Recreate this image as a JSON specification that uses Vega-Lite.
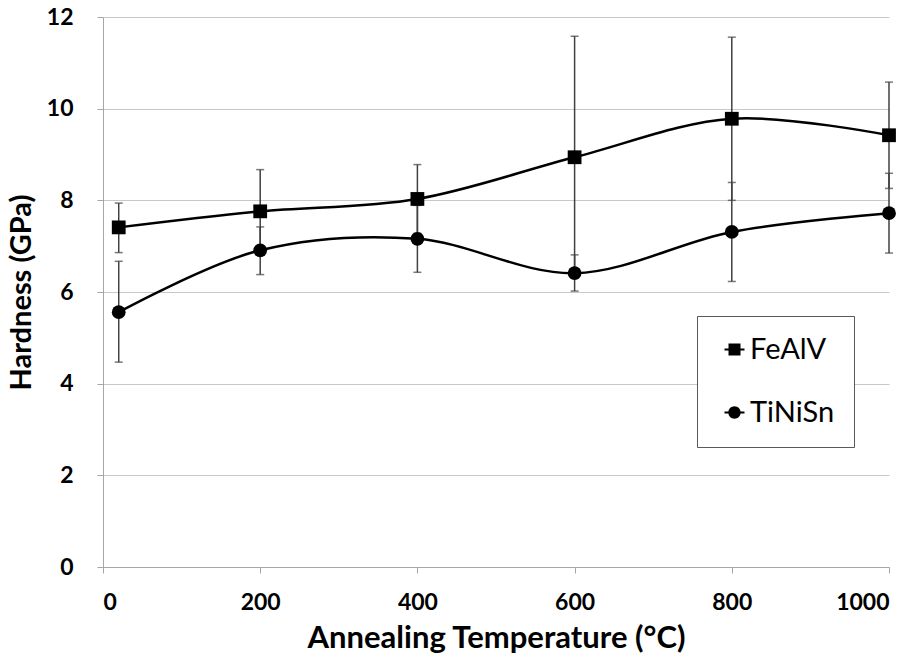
{
  "$schema": "https://vega.github.io/schema/vega-lite/v6.json",
  "width": 786,
  "height": 550,
  "autosize": {"type": "none"},
  "padding": {"left": 103, "top": 17, "right": 33, "bottom": 96},
  "background": "white",
  "config": {
    "view": {"stroke": null},
    "font": "Lato",
    "axis": {
      "labelColor": "black",
      "titleColor": "black",
      "labelFont": "Lato",
      "titleFont": "Lato",
      "labelFontWeight": "bold",
      "titleFontWeight": "bold",
      "labelFontSize": 23,
      "domainColor": "#a6a6a6",
      "tickColor": "#a6a6a6",
      "tickSize": 6,
      "gridColor": "#c8c8c8"
    }
  },
  "data": {
    "values": [
      {"series": "FeAlV", "temp": 20, "hardness": 7.41, "lo": 6.86, "hi": 7.94},
      {"series": "FeAlV", "temp": 200, "hardness": 7.76, "lo": 6.85, "hi": 8.67},
      {"series": "FeAlV", "temp": 400, "hardness": 8.03, "lo": 7.28, "hi": 8.78},
      {"series": "FeAlV", "temp": 600, "hardness": 8.94, "lo": 6.30, "hi": 11.58},
      {"series": "FeAlV", "temp": 800, "hardness": 9.78, "lo": 8.00, "hi": 11.56},
      {"series": "FeAlV", "temp": 1000, "hardness": 9.42, "lo": 8.26, "hi": 10.58},
      {"series": "TiNiSn", "temp": 20, "hardness": 5.56, "lo": 4.47, "hi": 6.67},
      {"series": "TiNiSn", "temp": 200, "hardness": 6.91, "lo": 6.38, "hi": 7.42},
      {"series": "TiNiSn", "temp": 400, "hardness": 7.16, "lo": 6.43, "hi": 7.89},
      {"series": "TiNiSn", "temp": 600, "hardness": 6.41, "lo": 6.02, "hi": 6.81},
      {"series": "TiNiSn", "temp": 800, "hardness": 7.31, "lo": 6.23, "hi": 8.39},
      {"series": "TiNiSn", "temp": 1000, "hardness": 7.72, "lo": 6.85, "hi": 8.59}
    ]
  },
  "encoding": {
    "x": {
      "field": "temp",
      "type": "quantitative",
      "scale": {"domain": [0, 1000], "nice": false},
      "axis": {
        "values": [0, 200, 400, 600, 800, 1000],
        "format": "d",
        "grid": false,
        "labelPadding": 18,
        "title": "Annealing Temperature (°C)",
        "titleFontSize": 31,
        "titlePadding": 9
      }
    }
  },
  "layer": [
    {
      "mark": {"type": "rule", "color": "#404040", "strokeWidth": 1.5},
      "encoding": {
        "y": {
          "field": "lo",
          "type": "quantitative",
          "scale": {"domain": [0, 12], "nice": false},
          "axis": {
            "values": [0, 2, 4, 6, 8, 10, 12],
            "grid": true,
            "labelPadding": 24,
            "title": "Hardness (GPa)",
            "titleFontSize": 29,
            "titlePadding": 10
          }
        },
        "y2": {"field": "hi"}
      }
    },
    {
      "mark": {"type": "tick", "orient": "horizontal", "color": "#404040", "thickness": 1.5, "size": 8},
      "encoding": {"y": {"field": "lo", "type": "quantitative", "title": "Hardness (GPa)"}}
    },
    {
      "mark": {"type": "tick", "orient": "horizontal", "color": "#404040", "thickness": 1.5, "size": 8},
      "encoding": {"y": {"field": "hi", "type": "quantitative", "title": "Hardness (GPa)"}}
    },
    {
      "mark": {"type": "line", "interpolate": "cardinal", "color": "black", "strokeWidth": 2.5},
      "encoding": {
        "y": {"field": "hardness", "type": "quantitative", "title": "Hardness (GPa)"},
        "detail": {"field": "series", "type": "nominal"}
      }
    },
    {
      "mark": {"type": "point", "filled": true, "opacity": 1, "color": "black", "size": 190},
      "encoding": {
        "y": {"field": "hardness", "type": "quantitative", "title": "Hardness (GPa)"},
        "shape": {
          "field": "series",
          "type": "nominal",
          "scale": {"domain": ["FeAlV", "TiNiSn"], "range": ["square", "circle"]},
          "legend": null
        }
      }
    },
    {
      "mark": {"type": "point", "filled": true, "opacity": 0, "color": "black"},
      "encoding": {
        "y": {"field": "hardness", "type": "quantitative", "title": "Hardness (GPa)"},
        "shape": {
          "field": "series",
          "type": "nominal",
          "scale": {
            "domain": ["FeAlV", "TiNiSn"],
            "range": [
              "M-1,-0.1H1V0.1H-1ZM-0.6,-0.6H0.6V0.6H-0.6Z",
              "M-1,-0.1H1V0.1H-1ZM0.62,0A0.62,0.62,0,1,1,-0.62,0A0.62,0.62,0,1,1,0.62,0Z"
            ]
          },
          "legend": {
            "title": null,
            "orient": "none",
            "legendX": 594,
            "legendY": 299,
            "padding": 19,
            "symbolOffset": 4,
            "strokeColor": "#595959",
            "fillColor": "white",
            "symbolSize": 400,
            "symbolFillColor": "black",
            "symbolOpacity": 1,
            "labelFont": "Lato",
            "labelFontSize": 29,
            "labelColor": "black",
            "labelOffset": 1,
            "rowPadding": 33,
            "encode": {
              "symbols": {
                "update": {
                  "fill": {"value": "black"},
                  "fillOpacity": {"value": 1},
                  "opacity": {"value": 1}
                }
              }
            }
          }
        }
      }
    }
  ],
  "resolve": {"scale": {"shape": "independent"}}
}
